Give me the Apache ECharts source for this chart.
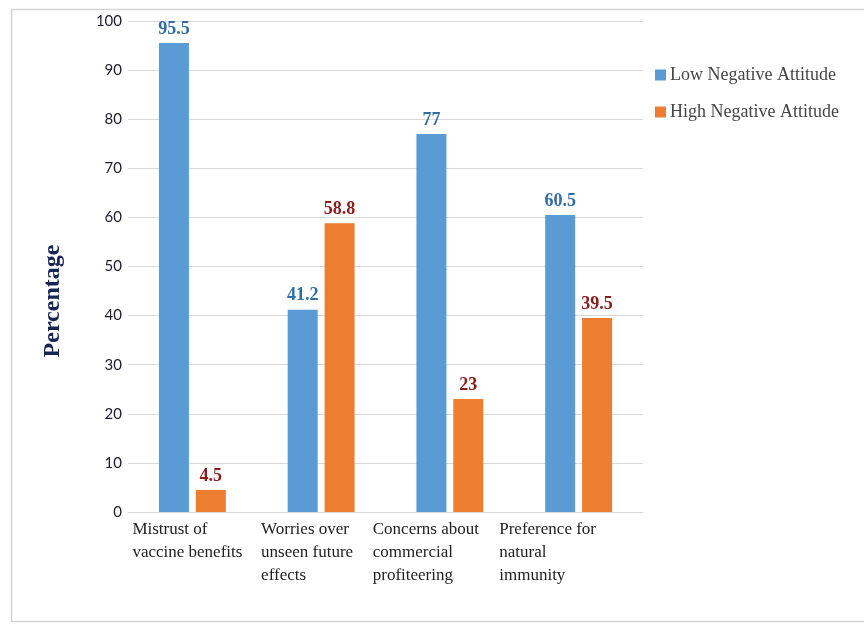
<!DOCTYPE html>
<html>
<head>
<meta charset="utf-8">
<script src="https://cdn.jsdelivr.net/npm/echarts@6/dist/echarts.min.js"></script>
<style>
  html, body { margin: 0; padding: 0; background: #fff; }
  #chart { width: 864px; height: 624px; }
</style>
</head>
<body>
<div id="chart"></div>
<script>
// Categories (one entry per line of the axis label) and the two attitude groups
const categories = [
  ['Mistrust of', 'vaccine benefits'],
  ['Worries over', 'unseen future', 'effects'],
  ['Concerns about', 'commercial', 'profiteering'],
  ['Preference for', 'natural', 'immunity']
];
const lowNegative = [95.5, 41.2, 77, 60.5];
const highNegative = [4.5, 58.8, 23, 39.5];
const seriesNames = ['Low Negative Attitude', 'High Negative Attitude'];
const yTicks = [0, 10, 20, 30, 40, 50, 60, 70, 80, 90, 100];

// right padding per label block (pulls each centred block to the left)
const labelPadRight = [10, 28, 48, 62];

const serif = '"Liberation Serif", "Times New Roman", serif';

const chart = echarts.init(document.getElementById('chart'));

const xData = categories.map((lines, i) => ({
  value: lines.map(l => '{l|' + l + '}').join('\n'),
  textStyle: { padding: [0, labelPadRight[i], 0, 0] }
}));

const valueLabel = (color) => ({
  show: true,
  position: 'top',
  distance: 5,
  fontFamily: serif,
  fontSize: 18,
  fontWeight: 'bold',
  color: color
});

chart.setOption({
  backgroundColor: '#ffffff',
  animation: false,
  grid: { left: 128, right: 221, top: 21, bottom: 112 },
  legend: {
    orient: 'vertical',
    left: 650,
    top: 61,
    itemWidth: 11,
    itemHeight: 11,
    itemGap: 19,
    icon: 'rect',
    textStyle: { fontFamily: serif, fontSize: 18, color: '#454545', padding: [0, 0, 0, -1] },
    data: seriesNames
  },
  xAxis: {
    type: 'category',
    data: xData,
    axisLine: { lineStyle: { color: '#d9d9d9', width: 1 } },
    axisTick: { show: false },
    axisLabel: {
      interval: 0,
      margin: 6,
      fontFamily: serif,
      fontSize: 17,
      lineHeight: 23,
      color: '#222',
      align: 'center',
      rich: {
        l: { align: 'left', fontFamily: serif, fontSize: 17, lineHeight: 23, color: '#222' }
      }
    }
  },
  yAxis: {
    type: 'value',
    min: yTicks[0],
    max: yTicks[yTicks.length - 1],
    interval: 10,
    axisLine: { show: false },
    axisTick: { show: false },
    splitLine: { lineStyle: { color: '#d9d9d9', width: 1 } },
    axisLabel: {
      margin: 6,
      fontFamily: 'Lato, "Noto Sans", sans-serif',
      fontSize: 15,
      color: '#1c1c2e'
    }
  },
  graphic: [
    {
      type: 'rect',
      shape: { x: 11.5, y: 9.5, width: 870, height: 612 },
      style: { fill: 'none', stroke: '#d4d4d4', lineWidth: 1.5 },
      silent: true
    },
    {
      type: 'text',
      x: 53,
      y: 301,
      rotation: Math.PI / 2,
      style: {
        text: 'Percentage',
        fontFamily: serif,
        fontSize: 24,
        fontWeight: 'bold',
        fill: '#172555',
        align: 'center',
        verticalAlign: 'middle'
      }
    }
  ],
  series: [
    {
      name: seriesNames[0],
      type: 'bar',
      data: lowNegative,
      barWidth: 30,
      barGap: '23%',
      itemStyle: { color: '#5b9bd5' },
      label: valueLabel('#2f6da6')
    },
    {
      name: seriesNames[1],
      type: 'bar',
      data: highNegative,
      barWidth: 30,
      barGap: '23%',
      itemStyle: { color: '#ed7d31' },
      label: valueLabel('#8b1c1c')
    }
  ]
});
</script>
</body>
</html>
